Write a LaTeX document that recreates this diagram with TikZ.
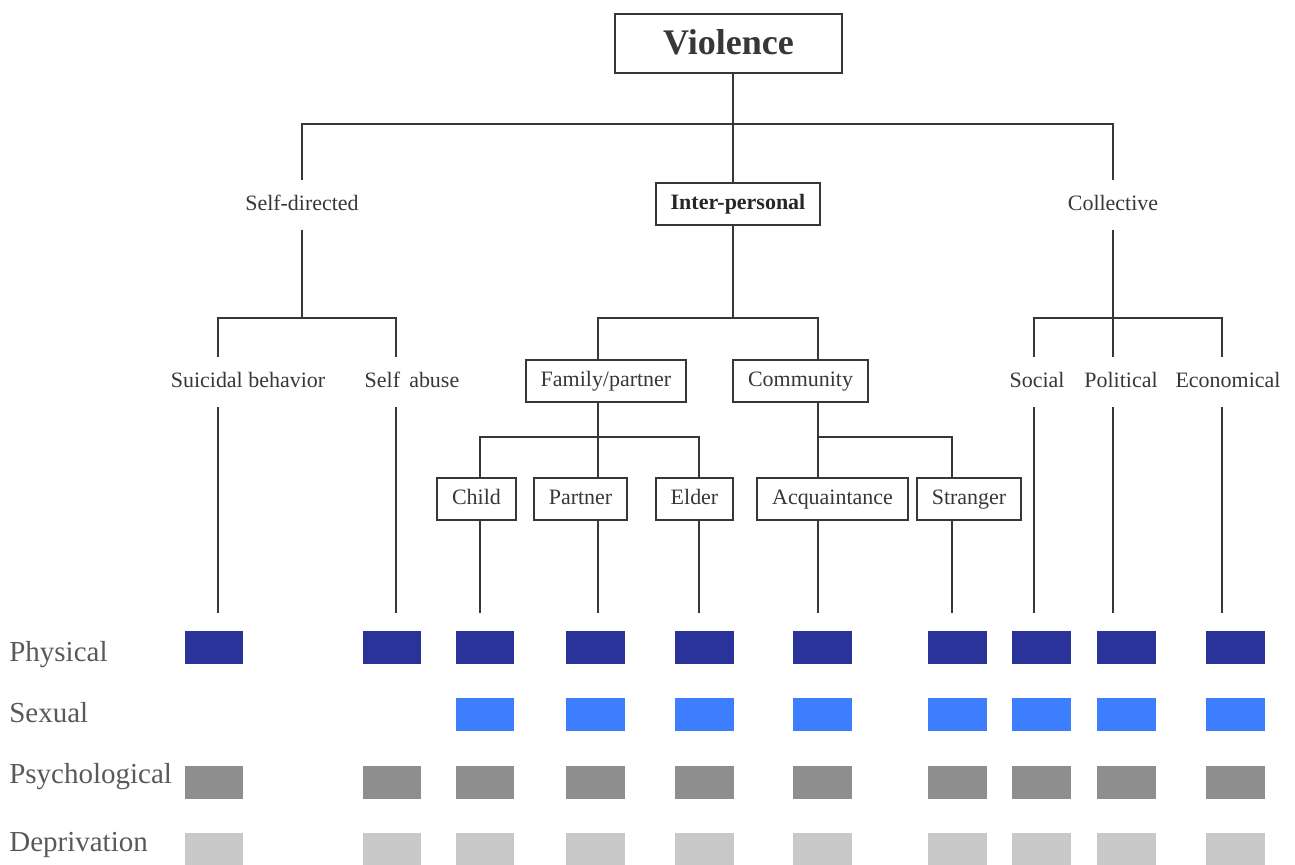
\documentclass[tikz,border=0pt]{standalone}
\usepackage{fontspec}
\setmainfont{Liberation Serif}
\usepackage{tikz}
\usetikzlibrary{positioning}

\definecolor{physblue}{RGB}{42,51,153}
\definecolor{sexblue}{RGB}{61,126,255}
\definecolor{psygray}{RGB}{142,142,142}
\definecolor{depgray}{RGB}{200,200,200}
\definecolor{inkgray}{RGB}{55,55,55}

\begin{document}
\begin{tikzpicture}[x=0.02cm, y=-0.02cm,
                link/.style={draw=inkgray, line width=1pt}, % Tree lines
                box/.style={rectangle, draw=inkgray, line width=1pt, fill=white, text=inkgray, font=\fontsize{12.5}{14}\selectfont, inner xsep=0.3cm, minimum height=0.84cm, text height=8.8pt, text depth=2.8pt}, % Boxed nodes
                lbl/.style={text=inkgray, font=\fontsize{12.5}{14}\selectfont, minimum height=1cm, inner sep=0pt, text height=8.8pt, text depth=2.8pt}, % Plain labels
                rowlbl/.style={text=black!65, font=\fontsize{16.5}{18}\selectfont, anchor=west, inner sep=0pt, text height=11.5pt, text depth=3.6pt}, % Row labels
                sq/.style={rectangle, draw=none, minimum width=1.18cm, minimum height=0.66cm, inner sep=0pt} % Squares
                ]
\useasboundingbox (0,0) rectangle (1295,865);

% tree nodes
\node[box, minimum width=4.54cm, minimum height=1.18cm, font=\fontsize{20.5}{24}\selectfont\bfseries, text height=14pt, text depth=1pt] (viol) at (728.5,43.5) {Violence};
\node[box, font=\fontsize{12.5}{14}\selectfont\bfseries, text=black!85] (inter) at (738,204) {Inter-personal};
\node[lbl] (self) at (302,205) {Self-directed};
\node[lbl] (coll) at (1113,205) {Collective};

\node[lbl] (suic) at (248,382) {Suicidal behavior};
\node[lbl] (sabu) at (412,382) {Self\,\ abuse};
\node[box] (fam) at (606,381) {Family/partner};
\node[box] (comm) at (800.5,381) {Community};
\node[lbl] (soc) at (1037,382) {Social};
\node[lbl] (pol) at (1121,382) {Political};
\node[lbl] (econ) at (1228,382) {Economical};

\node[box] (chld) at (476.5,499) {Child};
\node[box] (part) at (580.5,499) {Partner};
\node[box] (eldr) at (694.5,499) {Elder};
\node[box] (acq) at (832.5,499) {Acquaintance};
\node[box] (strg) at (969,499) {Stranger};

% junctions and line ends above the squares
\coordinate (bTop) at (733,124);
\coordinate (bSelf) at (302,318);
\coordinate (bInter) at (733,318);
\coordinate (bColl) at (1113,318);
\coordinate (bFam) at (598,437);
\coordinate (bComm) at (818,437);
\foreach \n/\x in {c1/218, c2/396, c3/480, c4/598, c5/699, c6/818, c7/952, c8/1034, c9/1113, c10/1222}
    \coordinate (\n) at (\x,613);

% connectors
\draw[link] (viol.south -| bTop) -- (inter.north -| bTop);
\draw[link] (self.north) |- (bTop) -| (coll.north);
\draw[link] (self.south) -- (bSelf);
\draw[link] (suic.north -| c1) |- (bSelf) -| (sabu.north -| c2);
\draw[link] (inter.south -| bInter) -- (bInter);
\draw[link] (fam.north -| c4) |- (bInter) -| (comm.north -| c6);
\draw[link] (coll.south) -- (bColl);
\draw[link] (soc.north -| c8) |- (bColl) -| (econ.north -| c10);
\draw[link] (pol.north -| c9) -- (bColl);
\draw[link] (fam.south -| c4) -- (part.north -| c4);
\draw[link] (chld.north -| c3) |- (bFam) -| (eldr.north -| c5);
\draw[link] (comm.south -| c6) -- (acq.north -| c6);
\draw[link] (bComm) -| (strg.north -| c7);

\draw[link] (suic.south -| c1) -- (c1);
\draw[link] (sabu.south -| c2) -- (c2);
\draw[link] (chld.south -| c3) -- (c3);
\draw[link] (part.south -| c4) -- (c4);
\draw[link] (eldr.south -| c5) -- (c5);
\draw[link] (acq.south -| c6) -- (c6);
\draw[link] (strg.south -| c7) -- (c7);
\draw[link] (soc.south -| c8) -- (c8);
\draw[link] (pol.south -| c9) -- (c9);
\draw[link] (econ.south -| c10) -- (c10);

% row labels
\node[rowlbl] (rphys) at (9,655) {Physical};
\node[rowlbl] (rsex) at (9,716) {Sexual};
\node[rowlbl] (rpsy) at (9,777) {Psychological};
\node[rowlbl] (rdep) at (9,845) {Deprivation};

% squares
\foreach \x [count=\i] in {214,392,485,595,704,822,957,1041,1126,1235} {
    \node[sq, fill=physblue] (p\i) at (\x,647) {};
    \ifnum\i>2 \node[sq, fill=sexblue] (s\i) at (\x,714) {}; \fi
    \node[sq, fill=psygray] (y\i) at (\x,782) {};
    \node[sq, fill=depgray] (d\i) at (\x,849.5) {};
}
\end{tikzpicture}
\end{document}
